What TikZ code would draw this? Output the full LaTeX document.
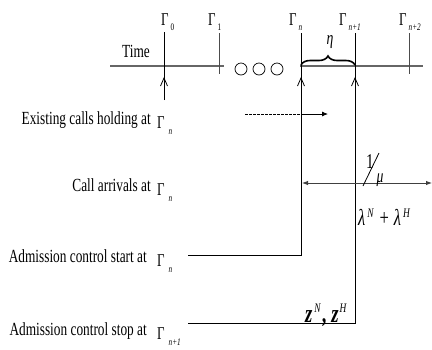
\documentclass[tikz,border=0pt]{standalone}
\usepackage{fontspec}
\setmainfont{Liberation Serif}[FakeStretch=0.72]
\usetikzlibrary{arrows.meta,decorations.pathreplacing}
\tikzset{
  lbl/.style={inner sep=0pt,font=\fontsize{18.5}{19}\selectfont},
  gam/.style={inner sep=0pt,font=\fontsize{18}{18}\selectfont},
  tl/.style={draw=black!60,line width=1.1pt},
  tick/.style={draw=black!70,line width=0.8pt},
  vl/.style={draw=black,line width=0.8pt},
  barb/.style={-{Straight Barb[length=8pt,width=7pt,line width=0.8pt]},line width=0.8pt},
  dbl/.style={{Latex[length=6pt,width=4.5pt]}-{Latex[length=6pt,width=4.5pt]}}
}
\newcommand{\subs}[1]{\raisebox{-5pt}{\fontsize{10}{10}\selectfont #1}}
\newcommand{\lsubs}[1]{\raisebox{-6pt}{\fontsize{10}{10}\selectfont #1}}
\newcommand{\supr}[1]{\raisebox{8pt}{\fontsize{13}{13}\selectfont\mdseries #1}}
\begin{document}
\begin{tikzpicture}[x=1pt,y=-1pt]
\useasboundingbox (0,0) rectangle (432,349);
% time axis
\node[lbl,anchor=base east] (time) at (150,57) {Time};
\coordinate (a0) at (110,66); \coordinate (a1) at (224,66);
\coordinate (b0) at (300,66); \coordinate (b1) at (423,66);
\draw[tl] (a0) -- (a1);
\draw[tl] (b0) -- (b1);
\foreach \cx/\nm in {241/c1,259/c2,277/c3}
  \node[draw,circle,minimum size=12pt,inner sep=0pt,line width=0.7pt] (\nm) at (\cx,69) {};
% top labels
\node[gam,anchor=base west] (g0) at (161,25) {Γ\kern2pt\subs{0}};
\node[gam,anchor=base west] (g1) at (208,25) {Γ\kern2pt\subs{1}};
\node[gam,anchor=base west] (gn) at (289,25) {Γ\kern2pt\subs{\itshape n}};
\node[gam,anchor=base west] (gn1) at (339,25) {Γ\kern2pt\subs{\itshape n+1}};
\node[gam,anchor=base west] (gn2) at (399,25) {Γ\kern2pt\subs{\itshape n+2}};
% ticks
\coordinate (t0a) at (164,32); \coordinate (t0b) at (164,100);
\coordinate (t1a) at (219,33); \coordinate (t1b) at (219,74);
\coordinate (t2a) at (409,33); \coordinate (t2b) at (409,74);
\coordinate (tna) at (301,33); \coordinate (tnb) at (301,255);
\coordinate (tma) at (355,33); \coordinate (tmb) at (355,323);
\draw[vl] (t0a) -- (t0b);
\draw[tick] (t1a) -- (t1b);
\draw[tick] (t2a) -- (t2b);
\draw[barb] (t0b) -- (164,77);
\draw[barb] (301,100) -- (301,77);
\draw[barb] (355,100) -- (355,77);
% brace
\draw[decorate,decoration={brace,amplitude=9pt},line width=1.6pt] (301,65) -- (355,65);
\node[gam,font=\fontsize{19}{19}\selectfont\itshape] (eta) at (330,42) {η};
% left labels
\node[lbl,anchor=base east] (l1) at (151,124) {Existing calls holding at};
\node[gam,anchor=base west] (l1g) at (157,128) {Γ\kern4pt\lsubs{\itshape n}};
\node[lbl,anchor=base east] (l2) at (151,191) {Call arrivals at};
\node[gam,anchor=base west] (l2g) at (157,195) {Γ\kern4pt\lsubs{\itshape n}};
\node[lbl,anchor=base east] (l3) at (147,262) {Admission control start at};
\node[gam,anchor=base west] (l3g) at (157,266) {Γ\kern4pt\lsubs{\itshape n}};
\node[lbl,anchor=base east] (l4) at (147,335) {Admission control stop at};
\node[gam,anchor=base west] (l4g) at (157,339) {Γ\kern4pt\lsubs{\itshape n+1}};
% Gamma_n and Gamma_n+1 lines
\draw[vl] (tna) -- (tnb) -- (188,255);
\draw[vl] (tma) -- (tmb) -- (188,323);
% existing calls arrow
\coordinate (d0) at (245,114); \coordinate (d1) at (301,114); \coordinate (d2) at (328,114);
\draw[line width=0.7pt,dashed,dash pattern=on 2.5pt off 1.5pt] (d0) -- (d1);
\draw[line width=0.8pt,-{Latex[length=6pt,width=5pt]}] (d1) -- (d2);
% holding time
\coordinate (h0) at (302,183); \coordinate (h1) at (432,183);
\draw[line width=0.9pt,draw=black!75,dbl] (h0) -- (h1);
\node[gam,anchor=base,font=\fontsize{21}{21}\selectfont] (one) at (370,168) {1};
\draw[line width=0.8pt] (363,186) -- (379,153);
\node[gam,anchor=base,font=\fontsize{19}{19}\selectfont\itshape] (mu) at (380,182) {μ};
\node[gam,anchor=base west,font=\fontsize{23}{23}\selectfont] (lam) at (358,225) {\itshape λ\kern2pt\supr{\itshape N}\kern6pt\upshape+\kern5pt\itshape λ\kern2pt\supr{\itshape H}};
\node[gam,anchor=base west,font=\fontsize{26}{26}\selectfont\bfseries\itshape] (zz) at (305,322) {z\kern2pt\raisebox{10pt}{\fontsize{13}{13}\selectfont\mdseries N}\kern2pt,\kern4pt z\kern1pt\raisebox{10pt}{\fontsize{13}{13}\selectfont\mdseries H}};
\end{tikzpicture}
\end{document}
